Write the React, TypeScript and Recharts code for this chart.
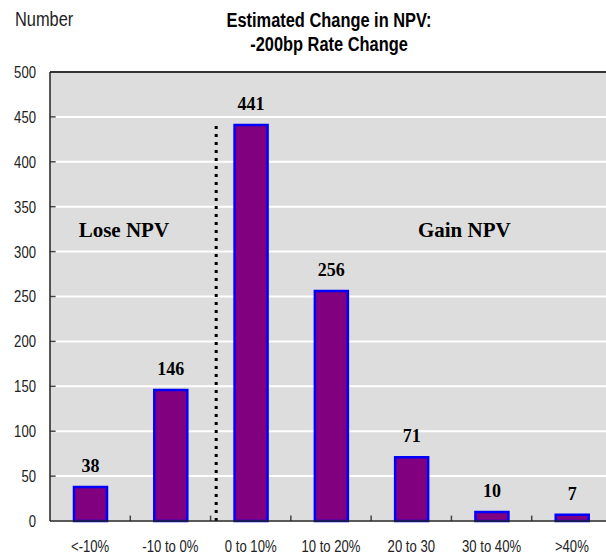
import React from "react";
import {
  Bar,
  BarChart,
  CartesianGrid,
  LabelList,
  ReferenceDot,
  ReferenceLine,
  XAxis,
  YAxis,
} from "recharts";

// ranges of estimated NPV change
const categories = ["<-10%", "-10 to 0%", "0 to 10%", "10 to 20%", "20 to 30", "30 to 40%", ">40%"];
const counts = [38, 146, 441, 256, 71, 10, 7];
const yTicks = [0, 50, 100, 150, 200, 250, 300, 350, 400, 450, 500];
const bandEdges = [1, 2, 3, 4, 5, 6];

// pos = band centre on a 0..7 numeric axis, used for the annotations
const data = categories.map((name, i) => ({ name, count: counts[i], pos: i + 0.5 }));

const sans = "'Liberation Sans', Arial, sans-serif";
const serif = "'Liberation Serif', 'Times New Roman', serif";

// no Arial Narrow here, so squeeze the sans text horizontally
const Narrow = ({ x, y, anchor, dy, size, bold, color = "#222", children }: any) => (
  <text
    transform={`translate(${x},${y}) scale(0.82,1.05)`}
    textAnchor={anchor}
    dy={dy}
    fontFamily={sans}
    fontSize={size}
    fontWeight={bold ? "bold" : "normal"}
    fill={color}
  >
    {children}
  </text>
);

const XTick = (props: any) => (
  <Narrow x={props.x} y={props.y} anchor="middle" dy="0.71em" size={16}>
    {props.payload.value}
  </Narrow>
);

const YTick = (props: any) => (
  <Narrow x={props.x} y={props.y} anchor="end" dy="0.355em" size={16}>
    {props.payload.value}
  </Narrow>
);

const noteLabel = (text: string) => (props: any) => {
  const { viewBox } = props;
  return (
    <text x={viewBox.x} y={viewBox.y} textAnchor="middle" fontFamily={serif} fontWeight="bold" fontSize={21} fill="#000">
      {text}
    </text>
  );
};

export default function App() {
  return (
    <div style={{ position: "absolute", left: 0, top: 0, width: 606, height: 556, overflow: "hidden", background: "#fff" }}>
      <BarChart width={612} height={556} data={data} margin={{ top: 72, right: 0, left: 0, bottom: 0 }}>
        <CartesianGrid vertical={false} fill="#dddddd" stroke="#ffffff" strokeWidth={2} />
        <XAxis
          dataKey="name"
          height={35}
          axisLine={{ stroke: "#222", strokeWidth: 1.5 }}
          tickLine={false}
          tickSize={0}
          tickMargin={19}
          tick={<XTick />}
          interval={0}
        />
        <XAxis xAxisId="num" dataKey="pos" type="number" domain={[0, 7]} allowDataOverflow hide />
        <YAxis
          width={50}
          domain={[0, 500]}
          ticks={yTicks}
          axisLine={{ stroke: "#222", strokeWidth: 1.5 }}
          tickLine={false}
          tickSize={0}
          tickMargin={14}
          tick={<YTick />}
        />
        <ReferenceLine y={500} stroke="#333" strokeWidth={2} />
        {/* inward tick marks */}
        {bandEdges.map((e) => (
          <ReferenceLine
            key={"x" + e}
            xAxisId="num"
            segment={[{ x: e, y: 0 }, { x: e, y: 6 }]}
            stroke="#444"
            strokeWidth={1.5}
          />
        ))}
        {yTicks.slice(1, -1).map((v) => (
          <ReferenceLine
            key={"y" + v}
            xAxisId="num"
            segment={[{ x: 0, y: v }, { x: 0.07, y: v }]}
            stroke="#444"
            strokeWidth={1.5}
          />
        ))}
        <ReferenceLine
          xAxisId="num"
          segment={[{ x: 2.07, y: 0 }, { x: 2.07, y: 441 }]}
          stroke="#000"
          strokeWidth={3}
          strokeDasharray="3 5"
        />
        <ReferenceDot xAxisId="num" x={0.92} y={316} r={0} fill="none" stroke="none" label={noteLabel("Lose NPV")} />
        <ReferenceDot xAxisId="num" x={5.16} y={316} r={0} fill="none" stroke="none" label={noteLabel("Gain  NPV")} />
        <Bar dataKey="count" fill="#800080" stroke="#0000ff" strokeWidth={2.5} barSize={33} isAnimationActive={false}>
          <LabelList dataKey="count" position="top" offset={15} fill="#000" fontFamily={serif} fontWeight="bold" fontSize={18} />
        </Bar>
      </BarChart>
      <svg width={606} height={72} style={{ position: "absolute", left: 0, top: 0, pointerEvents: "none" }}>
        <Narrow x={15} y={26} anchor="start" size={20}>
          Number
        </Narrow>
        <Narrow x={329} y={27} anchor="middle" size={20} bold color="#000">
          Estimated Change in NPV:
        </Narrow>
        <Narrow x={329} y={51} anchor="middle" size={20} bold color="#000">
          -200bp Rate Change
        </Narrow>
      </svg>
    </div>
  );
}
